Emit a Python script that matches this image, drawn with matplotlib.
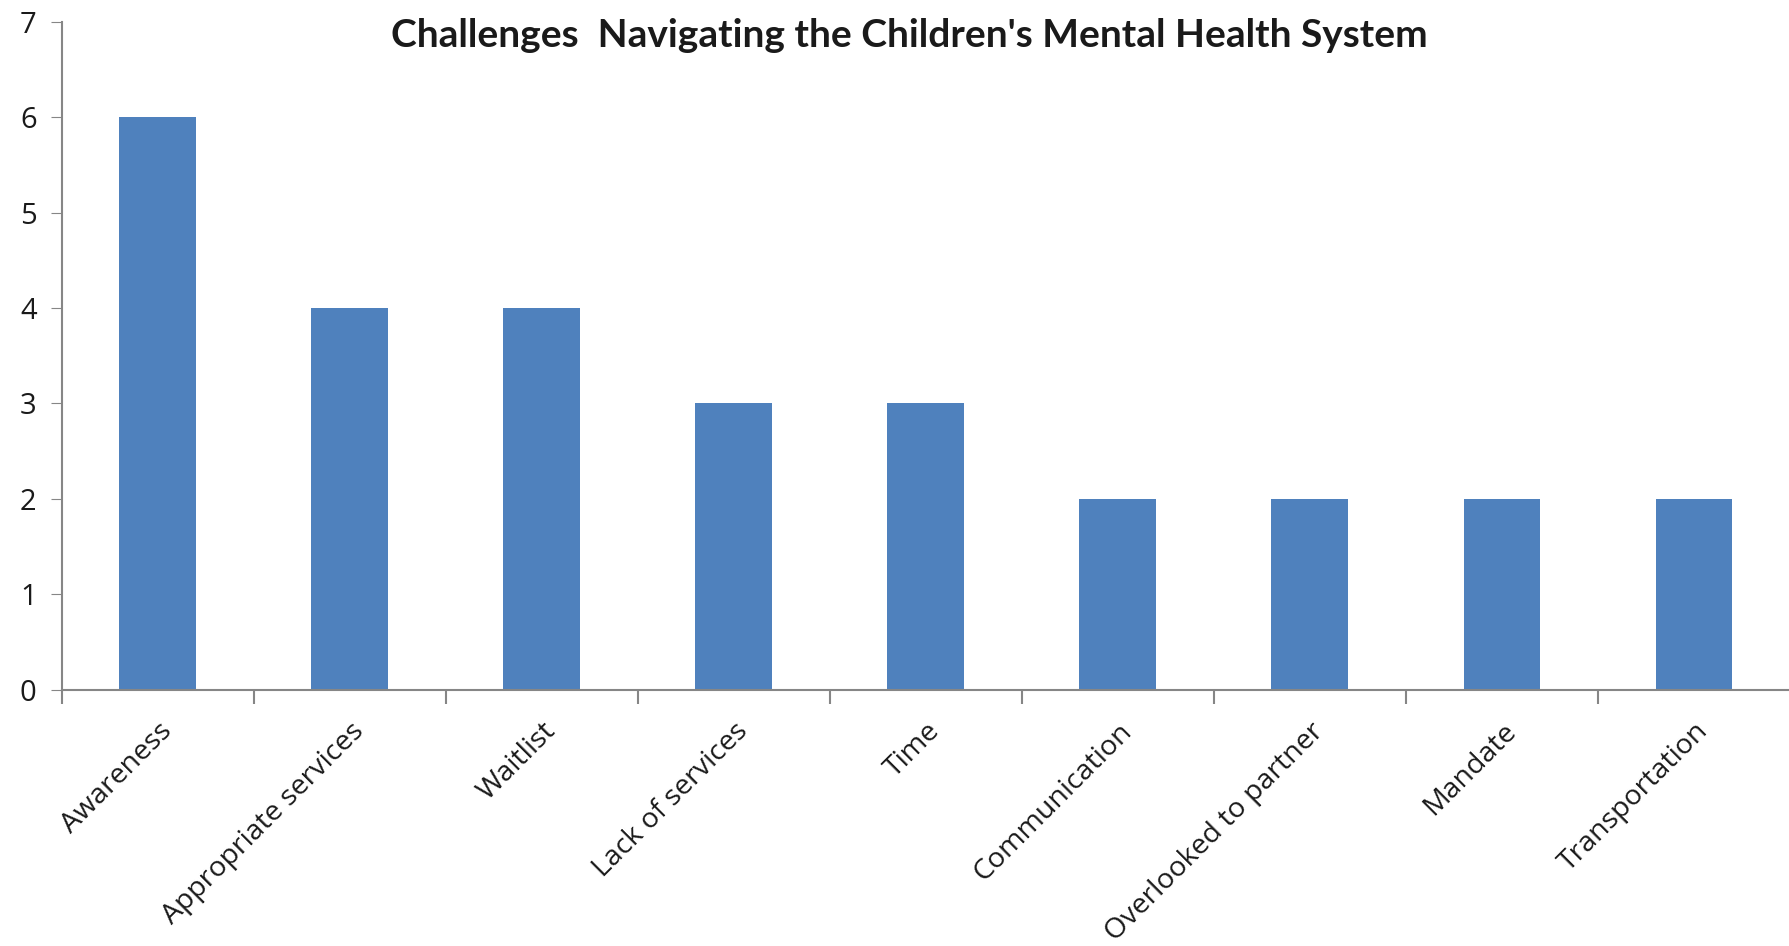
import matplotlib.pyplot as plt
import numpy as np

categories = ['Awareness', 'Appropriate services', 'Waitlist', 'Lack of services', 'Time',
              'Communication', 'Overlooked to partner', 'Mandate', 'Transportation']
counts = [6, 4, 4, 3, 3, 2, 2, 2, 2]
title = "Challenges  Navigating the Children's Mental Health System"

plt.rcParams['font.family'] = ['Open Sans', 'DejaVu Sans']

fig = plt.figure(figsize=(17.9, 9.46), dpi=100)
ax = fig.add_axes([0.0344, 0.271, 0.9656, 0.706])

x = np.arange(len(categories))
ax.bar(x, counts, width=0.4, color='#4F81BD', zorder=2)

ax.set_xlim(-0.5, len(categories) - 0.5)
ax.set_ylim(0, 7)
ax.set_yticks(range(0, 8))
ax.tick_params(axis='y', labelsize=21, length=8, color='#868686', labelcolor='#1a1a1a', pad=10)

# category labels at centres, tick marks between categories
ax.set_xticks(x)
ax.set_xticklabels(categories, rotation=45, ha='right', rotation_mode='anchor', fontsize=20.5, color='#1a1a1a')
ax.tick_params(axis='x', which='major', length=0, pad=20)
ax.set_xticks(np.arange(-0.5, len(categories) - 0.5, 1), minor=True)
ax.tick_params(axis='x', which='minor', length=10, color='#868686', width=1.5)

for side in ['top', 'right']:
    ax.spines[side].set_visible(False)
for side in ['left', 'bottom']:
    ax.spines[side].set_color('#868686')
    ax.spines[side].set_linewidth(1.5)

fig.text(0.508, 0.963, title, ha='center', va='center', fontsize=28, fontweight='bold',
         family=['Lato', 'DejaVu Sans'], color='#1a1a1a')

fig.savefig('out.png')
